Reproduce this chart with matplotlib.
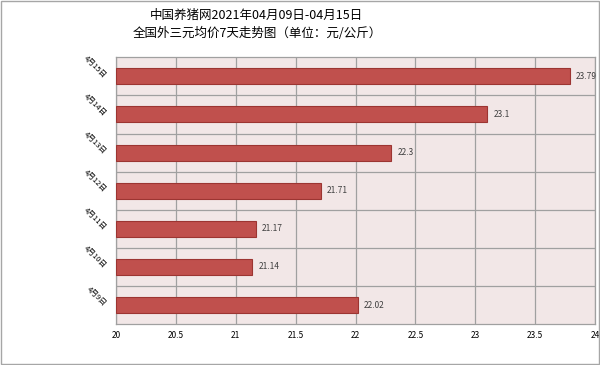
import matplotlib.pyplot as plt
import matplotlib.patches as mpatches

plt.rcParams['font.family'] = ['Noto Sans CJK SC', 'DejaVu Sans']

dates = ['4月9日', '4月10日', '4月11日', '4月12日', '4月13日', '4月14日', '4月15日']
prices = [22.02, 21.14, 21.17, 21.71, 22.3, 23.1, 23.79]
xticks = [20, 20.5, 21, 21.5, 22, 22.5, 23, 23.5, 24]

fig = plt.figure(figsize=(6, 3.65), dpi=100)
# outer border
fig.patches.append(mpatches.Rectangle((0.001, 0.002), 0.997, 0.995, transform=fig.transFigure,
                                      fill=False, edgecolor='#a6a6a6', linewidth=1))

ax = fig.add_axes([0.193, 0.112, 0.799, 0.731])
ax.set_facecolor('#f2e7e7')
ypos = list(range(len(dates)))
ax.barh(ypos, [p - 20 for p in prices], left=20, height=0.42,
        color='#c0504d', edgecolor='#9c3532', linewidth=0.8, zorder=3)
for y, p in zip(ypos, prices):
    ax.text(p + 0.05, y, f'{p:g}', va='center', ha='left', fontsize=6, color='#404040', zorder=4)

ax.set_xlim(20, 24)
ax.set_ylim(-0.5, len(dates) - 0.5)
ax.set_xticks(xticks)
ax.set_xticklabels([f'{t:g}' for t in xticks], fontsize=6)
ax.set_yticks(ypos)
ax.set_yticklabels(dates, fontsize=5.5, rotation=-45, ha='right', va='center', rotation_mode='anchor')
ax.set_yticks([y + 0.5 for y in ypos[:-1]], minor=True)
ax.grid(axis='x', color='#a0a0a0', linewidth=0.9, zorder=1)
ax.grid(axis='y', which='minor', color='#a0a0a0', linewidth=0.9, zorder=1)
ax.tick_params(length=0, which='both')
ax.tick_params(axis='x', pad=5)
ax.tick_params(axis='y', pad=8)
for s in ax.spines.values():
    s.set_color('#a0a0a0')
    s.set_linewidth(0.9)

fig.text(0.428, 0.958, '中国养猪网2021年04月09日-04月15日', ha='center', va='center',
         fontsize=9, fontweight='medium')
fig.text(0.428, 0.908, '全国外三元均价7天走势图（单位：元/公斤）', ha='center', va='center',
         fontsize=9, fontweight='medium')

fig.savefig('out.png', dpi=100)
